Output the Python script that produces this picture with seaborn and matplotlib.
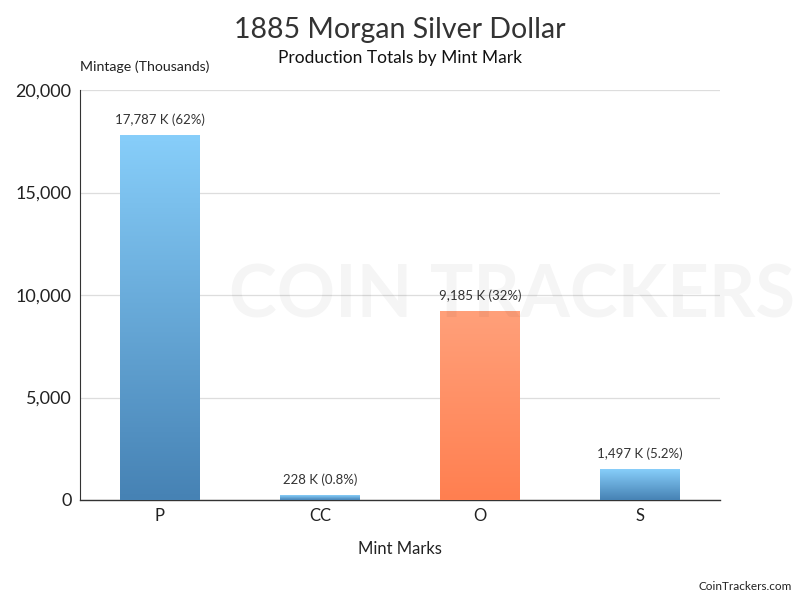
import matplotlib
matplotlib.use('Agg')
import matplotlib.pyplot as plt
import numpy as np
import pandas as pd
import seaborn as sns
from matplotlib.colors import LinearSegmentedColormap

# data
mint_marks = ["P", "CC", "O", "S"]
mintage_k = [17787, 228, 9185, 1497]
share_labels = ["62%", "0.8%", "32%", "5.2%"]
bar_kind = ["blue", "blue", "orange", "blue"]

df = pd.DataFrame({"mark": mint_marks, "mintage": mintage_k})

sns.set_theme(style="white")
plt.rcParams['font.family'] = ['Lato', 'DejaVu Sans']

fig = plt.figure(figsize=(8, 6), dpi=100)
ax = fig.add_axes([0.1, 1 - 500 / 600, 0.8, 410 / 600])

sns.barplot(data=df, x="mark", y="mintage", width=0.5, ax=ax, color="#5b9bd5")

# gradients: light at top, dark at bottom
cmaps = {
    "blue": LinearSegmentedColormap.from_list("b", ["#4682b4", "#87cefa"]),
    "orange": LinearSegmentedColormap.from_list("o", ["#ff7f50", "#ffa07a"]),
}
grad = np.linspace(0, 1, 256).reshape(-1, 1)
for patch, kind in zip(ax.patches, bar_kind):
    x0, y0 = patch.get_x(), patch.get_y()
    w, h = patch.get_width(), patch.get_height()
    ax.imshow(grad, cmap=cmaps[kind], origin="lower", aspect="auto",
              extent=[x0, x0 + w, y0, y0 + h], zorder=3)
    patch.set_visible(False)

ax.set_xlim(-0.5, 3.5)
ax.set_ylim(0, 20000)
ax.set_yticks([0, 5000, 10000, 15000, 20000])
ax.set_yticklabels([f"{v:,}" for v in [0, 5000, 10000, 15000, 20000]])
ax.yaxis.grid(True, color="#dddddd", linewidth=0.9)
ax.set_axisbelow(True)
ax.tick_params(axis="y", labelsize=13, colors="#222222", length=0, pad=6)
ax.tick_params(axis="x", labelsize=12, colors="#222222", length=0, pad=6)
for s in ["top", "right"]:
    ax.spines[s].set_visible(False)
ax.spines["left"].set_color("#333333")
ax.spines["left"].set_linewidth(0.8)
ax.spines["bottom"].set_color("#333333")
ax.spines["bottom"].set_linewidth(1.0)

ax.set_ylabel("")
ax.set_xlabel("Mint Marks", fontsize=12, color="#222222", labelpad=12)

for i, (v, pct) in enumerate(zip(mintage_k, share_labels)):
    ax.text(i, v + 450, f"{v:,} K ({pct})", ha="center", va="bottom",
            fontsize=9.5, color="#333333", zorder=4)

# faint watermark
fig.text(0.64, 0.505, "COIN TRACKERS", fontsize=52, fontweight="bold",
         color="#000000", alpha=0.04, ha="center", va="center", zorder=0)

fig.text(0.5, 0.95, "1885 Morgan Silver Dollar", ha="center", va="center",
         fontsize=20.5, color="#333333")
fig.text(0.5, 0.903, "Production Totals by Mint Mark", ha="center", va="center",
         fontsize=12.5, color="#111111")
fig.text(0.1, 0.888, "Mintage (Thousands)", ha="left", va="center",
         fontsize=10.2, color="#222222")
fig.text(0.99, 0.022, "CoinTrackers.com", ha="right", va="center",
         fontsize=8.5, color="#222222")

fig.savefig("out.png", dpi=100, facecolor="white")
